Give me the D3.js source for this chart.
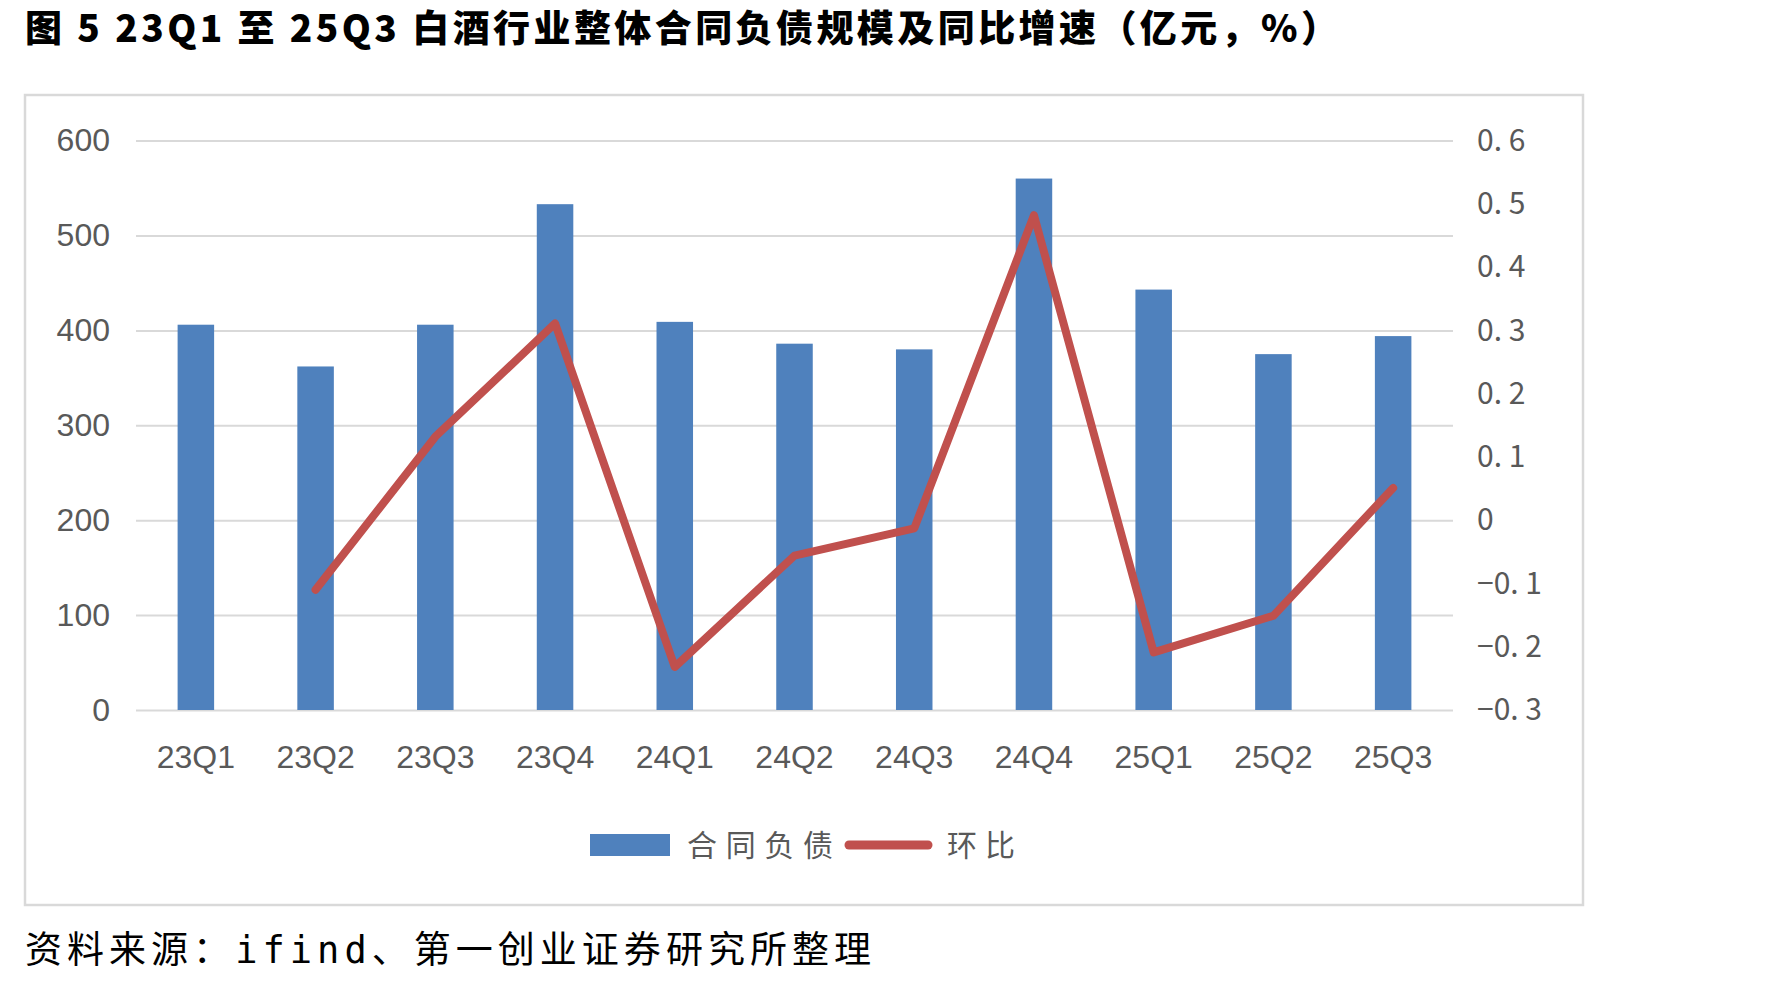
<!DOCTYPE html>
<html>
<head>
<meta charset="utf-8">
<script src="https://cdn.jsdelivr.net/npm/d3@7"></script>
<style>
  body { margin: 0; background: #fff; }
  svg { display: block; }
</style>
</head>
<body>
<div id="chart"></div>
<script>
const w = 1778;
const h = 987;

// data
const quarters = ['23Q1', '23Q2', '23Q3', '23Q4', '24Q1', '24Q2', '24Q3', '24Q4', '25Q1', '25Q2', '25Q3'];
const liabilities = [406, 362, 406, 533, 409, 386, 380, 560, 443, 375, 394];
const qoq = [null, -0.11, 0.132, 0.311, -0.232, -0.056, -0.013, 0.482, -0.209, -0.151, 0.051];
const leftTicks = [0, 100, 200, 300, 400, 500, 600];
const rightTicks = [-0.3, -0.2, -0.1, 0, 0.1, 0.2, 0.3, 0.4, 0.5, 0.6];

const titleText = '图 5 23Q1 至 25Q3 白酒行业整体合同负债规模及同比增速（亿元，%）';
const sourceText = '资料来源：ifind、第一创业证券研究所整理';
const barName = '合同负债';
const lineName = '环比';

const blue = '#4f81bd';
const red = '#c0504d';
const grey = '#595959';
const gridColor = '#d9d9d9';

const plot = {left: 136, right: 1453, top: 140.6, bottom: 710};

const svg = d3
  .select('#chart')
  .append('svg')
  .attr('width', w)
  .attr('height', h)
  .style('background-color', '#fff');

// title
svg
  .append('text')
  .attr('x', 25)
  .attr('y', 42)
  .attr('textLength', 1313)
  .attr('lengthAdjust', 'spacing')
  .style('font-family', '"Noto Sans CJK SC", sans-serif')
  .style('font-weight', 900)
  .style('font-size', '37px')
  .style('fill', '#000')
  .text(titleText);

// chart frame
svg
  .append('rect')
  .attr('x', 25)
  .attr('y', 95)
  .attr('width', 1558)
  .attr('height', 810)
  .attr('fill', '#fff')
  .attr('stroke', gridColor)
  .attr('stroke-width', 2.5);

const x = d3
  .scaleBand()
  .domain(quarters)
  .range([plot.left, plot.right])
  .paddingInner(0.695)
  .paddingOuter(0.3475);

const yLeft = d3.scaleLinear().domain([0, 600]).range([plot.bottom, plot.top]);
const yRight = d3.scaleLinear().domain([-0.3, 0.6]).range([plot.bottom, plot.top]);

// gridlines
const grid = d3
  .axisLeft(yLeft)
  .tickValues(leftTicks)
  .tickSize(-(plot.right - plot.left))
  .tickFormat('');

svg
  .append('g')
  .attr('transform', `translate(${plot.left},0)`)
  .call(grid)
  .call(g => g.select('.domain').remove())
  .call(g => g.selectAll('line').attr('stroke', gridColor).attr('stroke-width', 2));

// left axis labels
const leftAxis = d3.axisLeft(yLeft).tickValues(leftTicks).tickSize(0).tickPadding(26);
svg
  .append('g')
  .attr('transform', `translate(${plot.left},0)`)
  .call(leftAxis)
  .call(g => g.select('.domain').remove())
  .call(g =>
    g
      .selectAll('text')
      .style('font-family', '"Liberation Sans", Arial, sans-serif')
      .style('font-size', '32px')
      .attr('fill', grey)
  );

// right axis labels
const rightAxis = d3
  .axisRight(yRight)
  .tickValues(rightTicks)
  .tickSize(0)
  .tickPadding(24)
  .tickFormat(d => (Math.abs(d) < 1e-9 ? '0' : d3.format('.1f')(d).replace('.', '. ')));
svg
  .append('g')
  .attr('transform', `translate(${plot.right},0)`)
  .call(rightAxis)
  .call(g => g.select('.domain').remove())
  .call(g =>
    g
      .selectAll('text')
      .style('font-family', '"Noto Sans CJK SC", sans-serif')
      .style('font-size', '30px')
      .attr('fill', grey)
  );

// bars
svg
  .append('g')
  .selectAll('rect')
  .data(liabilities)
  .enter()
  .append('rect')
  .attr('x', (d, i) => x(quarters[i]))
  .attr('y', d => yLeft(d))
  .attr('width', x.bandwidth())
  .attr('height', d => yLeft(0) - yLeft(d))
  .attr('fill', blue);

// x axis labels
const xAxis = d3.axisBottom(x).tickSize(0).tickPadding(35);
svg
  .append('g')
  .attr('transform', `translate(0,${plot.bottom})`)
  .call(xAxis)
  .call(g => g.select('.domain').remove())
  .call(g =>
    g
      .selectAll('text')
      .style('font-family', '"Liberation Sans", Arial, sans-serif')
      .style('font-size', '32px')
      .attr('fill', grey)
  );

// qoq line
const line = d3
  .line()
  .defined(d => d != null)
  .x((d, i) => x(quarters[i]) + x.bandwidth() / 2)
  .y(d => yRight(d));

svg
  .append('path')
  .datum(qoq)
  .attr('d', line)
  .attr('fill', 'none')
  .attr('stroke', red)
  .attr('stroke-width', 8)
  .attr('stroke-linejoin', 'round')
  .attr('stroke-linecap', 'round');

// legend
const legend = svg.append('g').attr('transform', 'translate(590,845)');

legend
  .append('rect')
  .attr('x', 0)
  .attr('y', -11)
  .attr('width', 80)
  .attr('height', 22)
  .attr('fill', blue);

legend
  .append('text')
  .attr('x', 97)
  .attr('y', 11)
  .attr('textLength', 146)
  .attr('lengthAdjust', 'spacing')
  .style('font-family', '"Noto Sans CJK SC", sans-serif')
  .style('font-size', '30px')
  .attr('fill', grey)
  .text(barName);

legend
  .append('line')
  .attr('x1', 259)
  .attr('x2', 338)
  .attr('y1', 0)
  .attr('y2', 0)
  .attr('stroke', red)
  .attr('stroke-width', 9)
  .attr('stroke-linecap', 'round');

legend
  .append('text')
  .attr('x', 357)
  .attr('y', 11)
  .attr('textLength', 68)
  .attr('lengthAdjust', 'spacing')
  .style('font-family', '"Noto Sans CJK SC", sans-serif')
  .style('font-size', '30px')
  .attr('fill', grey)
  .text(lineName);

// source note
svg
  .append('text')
  .attr('x', 25)
  .attr('y', 963)
  .attr('textLength', 846)
  .attr('lengthAdjust', 'spacing')
  .style('font-family', '"DejaVu Sans Mono", "Noto Sans CJK SC", monospace')
  .style('font-size', '37px')
  .style('fill', '#000')
  .text(sourceText);
</script>
</body>
</html>
